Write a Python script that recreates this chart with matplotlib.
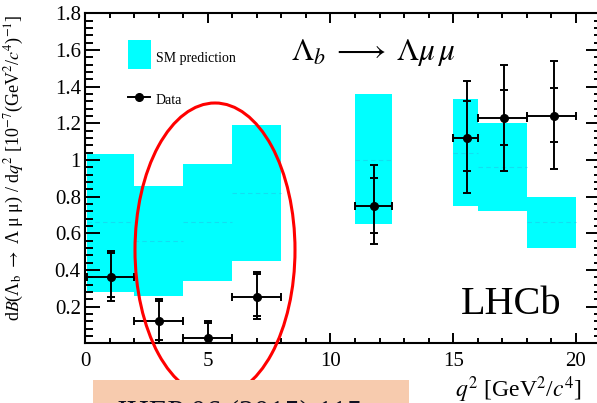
import numpy as np
import matplotlib
matplotlib.use("Agg")
import matplotlib.pyplot as plt
from matplotlib.patches import Rectangle, Ellipse
from matplotlib.ticker import MultipleLocator, FuncFormatter

plt.rcParams['font.family'] = ['Liberation Serif', 'DejaVu Serif']
plt.rcParams['mathtext.fontset'] = 'stix'

# q2 bins [GeV^2/c^4]
bin_lo = [0.1, 2.0, 4.0, 6.0, 11.0, 15.0, 16.0, 18.0]
bin_hi = [2.0, 4.0, 6.0, 8.0, 12.5, 16.0, 18.0, 20.0]

# SM prediction band (low, central, high)
sm_low = [0.28, 0.26, 0.34, 0.45, 0.65, 0.75, 0.72, 0.52]
sm_mid = [0.66, 0.56, 0.66, 0.82, 1.00, 1.04, 0.96, 0.66]
sm_high = [1.03, 0.86, 0.98, 1.19, 1.36, 1.33, 1.20, 0.80]

# data points
data_x = [1.06, 3.02, 5.01, 6.99, 11.78, 15.56, 17.05, 19.10]
data_y = [0.36, 0.12, 0.03, 0.25, 0.75, 1.12, 1.23, 1.24]
err_stat_up = [0.13, 0.11, 0.08, 0.13, 0.15, 0.20, 0.15, 0.15]
err_stat_dn = [0.11, 0.10, 0.03, 0.10, 0.15, 0.18, 0.15, 0.14]
err_tot_up = [0.145, 0.12, 0.09, 0.14, 0.22, 0.31, 0.29, 0.30]
err_tot_dn = [0.13, 0.12, 0.03, 0.12, 0.21, 0.30, 0.29, 0.29]

W, H = 597, 403


def px(x, y):
    # pixel position (from top-left) -> figure fraction
    return x / W, 1 - y / H


fig = plt.figure(figsize=(5.97, 4.03), dpi=100)
ax = fig.add_axes([85 / W, 1 - 343.3 / H, 515.5 / W, 330 / H])
ax.set_xlim(0, 21)
ax.set_ylim(0, 1.8)

cyan = '#00ffff'
for lo, hi, a, m, b in zip(bin_lo, bin_hi, sm_low, sm_mid, sm_high):
    ax.add_patch(Rectangle((lo, a), hi - lo, b - a, facecolor=cyan,
                           edgecolor='none', zorder=1))
    ax.plot([lo, hi], [m, m], color='#20c8e8', lw=0.8, ls=(0, (4, 3)),
            alpha=0.6, zorder=1.5)

x = np.array(data_x)
xerr = [x - np.array(bin_lo), np.array(bin_hi) - x]
ax.errorbar(x, data_y, xerr=xerr, yerr=[err_tot_dn, err_tot_up], fmt='o',
            color='black', ms=5.5, elinewidth=1.4, capsize=2.7, capthick=1.4,
            zorder=3)
ax.errorbar(x, data_y, yerr=[err_stat_dn, err_stat_up], fmt='none',
            ecolor='black', elinewidth=0, capsize=2.7, capthick=1.4, zorder=3)

# ticks, ROOT style
ax.xaxis.set_major_locator(MultipleLocator(5))
ax.xaxis.set_minor_locator(MultipleLocator(1))
ax.yaxis.set_major_locator(MultipleLocator(0.2))
ax.yaxis.set_minor_locator(MultipleLocator(0.04))
ax.yaxis.set_major_formatter(FuncFormatter(lambda v, p: '' if abs(v) < 1e-6 else '%g' % v))
ax.tick_params(which='both', direction='in', top=True, right=True,
               labelsize=15, width=1.4, colors='black')
ax.tick_params(axis='x', which='major', length=7.2, pad=6)
ax.tick_params(axis='x', which='minor', length=3.6)
ax.tick_params(axis='y', which='major', length=10.8, pad=3)
ax.tick_params(axis='y', which='minor', length=5.4)
for s in ax.spines.values():
    s.set_linewidth(1.5)

# legend drawn by hand
fig.add_artist(Rectangle(px(128, 69), 23 / W, 29 / H, transform=fig.transFigure,
                         facecolor=cyan, edgecolor='none'))
fig.text(*px(156, 62), 'SM prediction', fontsize=10, va='baseline')
lx0, ly = px(128, 97)
lx1, _ = px(150, 97)
fig.add_artist(plt.Line2D([lx0, lx1], [ly, ly], color='black', lw=1.4,
                          transform=fig.transFigure))
fig.add_artist(plt.Line2D([(lx0 + lx1) / 2], [ly], marker='o', ms=5.5,
                          color='black', transform=fig.transFigure))
fig.text(*px(156, 104), 'Data', fontsize=10, va='baseline')

fig.text(*px(291, 60), r'$\Lambda_b\;\longrightarrow\;\Lambda\mu\,\mu$', fontsize=22.5,
         va='baseline')
fig.text(*px(461, 314), 'LHCb', fontsize=29, va='baseline')

fig.text(*px(14, 168),
         r'd$\mathit{B}$(Λ$_{\rm b}$ $\rightarrow$ Λ μ μ) / d$q^{2}$ '
         r'[10$^{-7}$(GeV$^{2}$/$c^{4}$)$^{-1}$]',
         rotation=90, fontsize=13, ha='center', va='center')
fig.text(*px(455, 397), r'$q^{2}$ [GeV$^{2}$/$c^{4}$]', fontsize=17,
         va='baseline')

# red ellipse annotation
fig.add_artist(Ellipse(px(215, 250), 160 / W, 294 / H, transform=fig.transFigure,
                       facecolor='none', edgecolor='#ff0000', lw=2.2, zorder=5))

# journal reference box (cut at the bottom)
fig.add_artist(Rectangle(px(93, 420), 316 / W, 40 / H, transform=fig.transFigure,
                         facecolor='#f7cbae', edgecolor='none', zorder=6))
fig.text(*px(115, 421), 'JHEP 06 (2015) 115', fontsize=22, va='baseline',
         color='#111122', zorder=7)

fig.savefig('out.png', dpi=100)
